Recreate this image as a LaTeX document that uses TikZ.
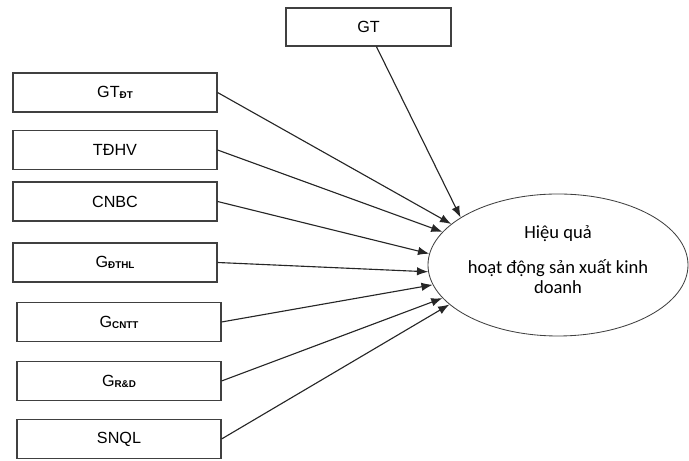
\documentclass[tikz,border=0pt]{standalone}
\usepackage{fontspec}
\setmainfont{Liberation Sans}
\newfontfamily\carlito{Carlito}
\usetikzlibrary{arrows.meta,shapes.geometric}
\newcommand{\subidx}[1]{\raisebox{-0.6pt}{\fontsize{7}{8}\selectfont\bfseries #1}}

\begin{document}
\begin{tikzpicture}[
		factor/.style={draw=black!75, line width=0.8pt, minimum width=5.1cm, minimum height=0.975cm, inner sep=0pt, font=\fontsize{11.5}{13}\selectfont},
		link/.style={-{Latex[length=8pt,width=6pt]}, line width=0.8pt, draw=black!85}
	]
		\useasboundingbox (0,0) rectangle (17.225,11.525);

		% Outcome
		\node[draw=black!75, line width=0.6pt, ellipse, minimum width=6.5cm, minimum height=3.55cm] (HQ) at (13.95,4.9) {};
		\node[align=center, font=\carlito\fontsize{13.2}{14.2}\selectfont] (HQtext) at ([yshift=0.14cm]HQ.center) {Hiệu quả\\[0.375cm] hoạt động sản xuất kinh\\ doanh};

		% Factors
		\node[factor, minimum width=4.125cm, minimum height=0.95cm] (GT) at (9.2125,10.85) {GT};
		\node[factor] (GTDT) at (2.875,9.2125) {GT\subidx{ĐT}};
		\node[factor] (TDHV) at (2.875,7.775) {TĐHV};
		\node[factor] (CNBC) at (2.875,6.4875) {CNBC};
		\node[factor] (GDTHL) at (2.875,4.9625) {G\subidx{ĐTHL}};
		\node[factor] (GCNTT) at (2.975,3.475) {G\subidx{CNTT}};
		\node[factor] (GRD) at (2.975,2.0) {G\subidx{R\&D}};
		\node[factor] (SNQL) at (2.975,0.55) {SNQL};

		% Arrows
		\draw[link] (GT.-68) -- (HQ.154);
		\draw[link] (GTDT.east) -- (HQ.159);
		\draw[link] (TDHV.east) -- (HQ.164);
		\draw[link] (CNBC.east) -- (HQ.175);
		\draw[link] (GDTHL.east) -- (HQ.183);
		\draw[link] (GCNTT.east) -- (HQ.189);
		\draw[link] (GRD.east) -- (HQ.196);
		\draw[link] (SNQL.east) -- (HQ.200);
	\end{tikzpicture}
\end{document}
